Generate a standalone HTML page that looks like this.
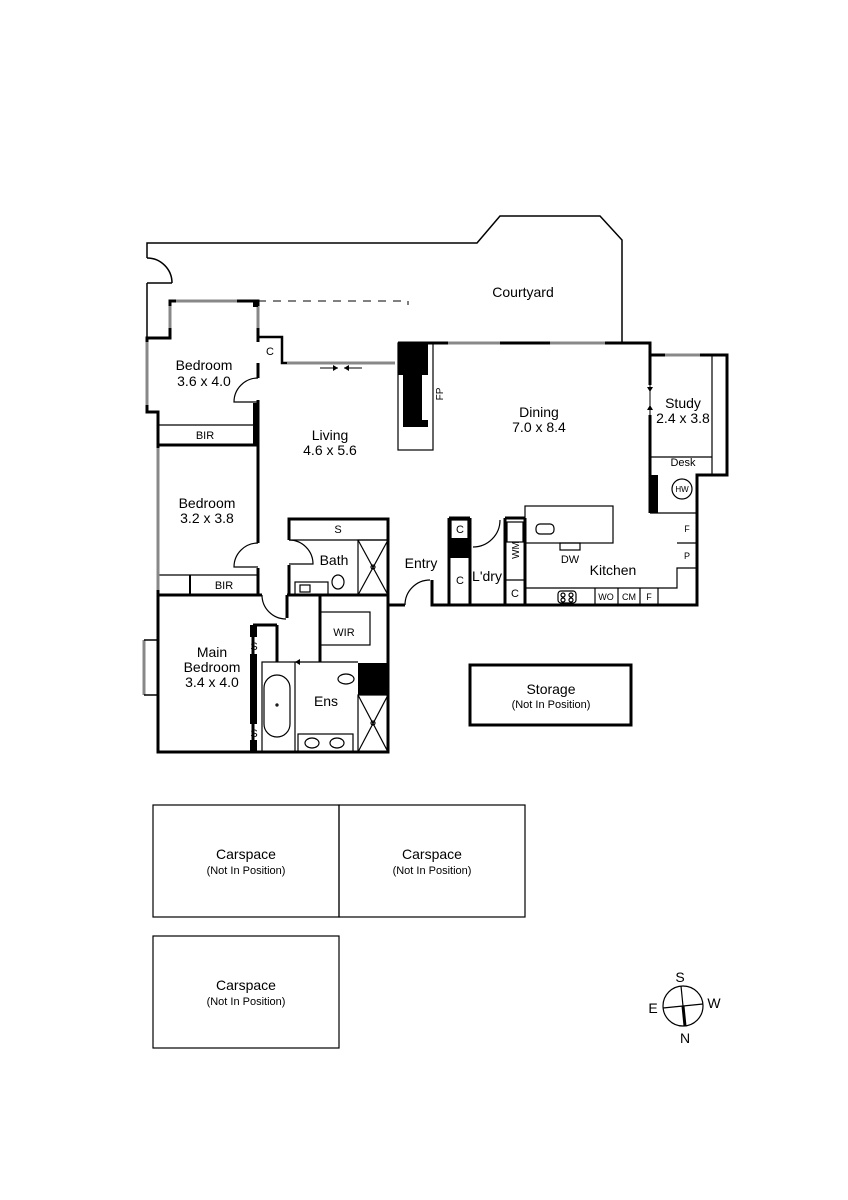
<!DOCTYPE html>
<html><head><meta charset="utf-8"><style>
html,body{margin:0;padding:0;background:#fff;}
svg{display:block;font-family:"Liberation Sans",sans-serif;}
</style></head><body>
<svg width="848" height="1200" viewBox="0 0 848 1200" xmlns="http://www.w3.org/2000/svg">
<g fill="none" stroke="#000" stroke-width="1.5">
<polyline points="147,258 147,243 477,243 500,216 600,216 622,240 622,343"/>
<path d="M147,258 A25,25 0 0 1 172,283"/>
<line x1="147" y1="283" x2="147" y2="338"/>
<line x1="172" y1="283" x2="147" y2="283"/>
<polyline points="258,301 408,301 408,305" stroke-dasharray="8,7" stroke-width="1"/>
</g>
<g fill="none" stroke="#000" stroke-width="3">
<polyline points="258,342 258,301 170,301 170,338 147,338 147,412 158,412 158,752 388,752 388,595"/>
<line x1="258" y1="363" x2="258" y2="378"/>
<line x1="258" y1="400" x2="258" y2="445"/>
<line x1="158" y1="445" x2="258" y2="445"/>
<line x1="258" y1="445" x2="258" y2="543"/>
<line x1="258" y1="568" x2="258" y2="595"/>
<line x1="158" y1="595" x2="262" y2="595"/>
<line x1="190" y1="575" x2="190" y2="595" stroke-width="2"/>
<polyline points="258,337 282,337 282,363 287,363" stroke-width="2.5"/>
<polyline points="398,343 650,343 650,355 727,355 727,475 697,475 697,605 432,605 432,580"/>
<polyline points="405,605 388,605 388,580"/>
<line x1="650" y1="355" x2="650" y2="385"/>
<line x1="650" y1="415" x2="650" y2="513"/>
<line x1="449" y1="518" x2="449" y2="605"/>
<line x1="449" y1="518" x2="470" y2="518"/>
<line x1="470" y1="518" x2="470" y2="605"/>
<line x1="505" y1="518" x2="505" y2="605"/>
<line x1="505" y1="518" x2="525" y2="518"/>
<line x1="525" y1="518" x2="525" y2="605"/>
<polyline points="289,540 289,519 388,519 388,580"/>
<line x1="289" y1="565" x2="289" y2="595"/>
<line x1="287" y1="595" x2="388" y2="595"/>
<line x1="287" y1="595" x2="287" y2="618"/>
<line x1="320" y1="595" x2="320" y2="662"/>
<line x1="253" y1="625" x2="253" y2="752"/>
<line x1="253" y1="625" x2="277" y2="625"/>
<line x1="277" y1="625" x2="277" y2="662"/>
<rect x="470" y="665" width="161" height="60"/>
</g>
<g fill="none" stroke="#000" stroke-width="1.2">
<rect x="153" y="805" width="186" height="112"/>
<rect x="339" y="805" width="186" height="112"/>
<rect x="153" y="936" width="186" height="112"/>
<path d="M258,378 A24,24 0 0 0 234,402 L258,402"/>
<path d="M258,543 A24,24 0 0 0 234,567 L258,567"/>
<path d="M262,595 A24,24 0 0 0 286,619"/>
<path d="M289,540 A24,24 0 0 1 313,564 L289,564"/>
<path d="M405,605 A25,25 0 0 1 430,580"/>
<path d="M473,547 A27,27 0 0 0 500,520"/>
<line x1="158" y1="425" x2="258" y2="425"/>
<line x1="158" y1="575" x2="258" y2="575"/>
<line x1="289" y1="540" x2="388" y2="540"/>
<rect x="358" y="540" width="30" height="55"/>
<line x1="358" y1="540" x2="388" y2="595"/><line x1="388" y1="540" x2="358" y2="595"/>
<circle cx="373" cy="567" r="2"/>
<rect x="295" y="582" width="33" height="13"/><rect x="300" y="585" width="10" height="7"/>
<ellipse cx="338" cy="582" rx="6" ry="7"/>
<rect x="320" y="612" width="50" height="33"/>
<line x1="295" y1="662" x2="358" y2="662"/>
<rect x="262" y="662" width="33" height="90"/>
<rect x="264" y="675" width="26" height="62" rx="13"/>
<circle cx="277" cy="705" r="1"/>
<rect x="298" y="734" width="55" height="18"/>
<ellipse cx="312" cy="743" rx="7" ry="5"/><ellipse cx="337" cy="743" rx="7" ry="5"/>
<ellipse cx="346" cy="679" rx="8" ry="5"/>
<rect x="358" y="695" width="30" height="57"/>
<line x1="358" y1="695" x2="388" y2="752"/><line x1="388" y1="695" x2="358" y2="752"/>
<circle cx="373" cy="723" r="2"/>
<rect x="398" y="343" width="35" height="107"/>
<rect x="451" y="520" width="17" height="20"/>
<rect x="507" y="522" width="16" height="20"/>
<line x1="505" y1="580" x2="525" y2="580"/>
<rect x="525" y="506" width="88" height="37"/>
<rect x="536" y="524" width="18" height="10" rx="4"/>
<rect x="560" y="543" width="20" height="7"/>
<polyline points="525,588 677,588 677,568 697,568"/>
<line x1="677" y1="543" x2="697" y2="543"/>
<line x1="595" y1="588" x2="595" y2="605"/><line x1="618" y1="588" x2="618" y2="605"/>
<line x1="640" y1="588" x2="640" y2="605"/><line x1="658" y1="588" x2="658" y2="605"/>
<rect x="558" y="591" width="18" height="12" rx="3"/>
<circle cx="563" cy="595" r="2"/><circle cx="571" cy="595" r="2"/><circle cx="563" cy="600" r="2"/><circle cx="571" cy="600" r="2"/>
<line x1="650" y1="513" x2="697" y2="513"/>
<circle cx="682" cy="489" r="10"/>
<line x1="650" y1="457" x2="712" y2="457"/>
<line x1="712" y1="355" x2="712" y2="475"/>
<line x1="470" y1="580" x2="470" y2="605"/>
<circle cx="683" cy="1006" r="20"/>
<line x1="681" y1="986" x2="683" y2="1006"/>
<line x1="663" y1="1008" x2="703" y2="1004"/>
</g>
<g stroke="#888" stroke-width="3">
<line x1="176" y1="301" x2="237" y2="301"/>
<line x1="170" y1="306" x2="170" y2="328"/>
<line x1="258" y1="306" x2="258" y2="328"/>
<line x1="147" y1="342" x2="147" y2="405"/>
<line x1="158" y1="448" x2="158" y2="590"/>
<line x1="287" y1="363" x2="395" y2="363"/>
<line x1="448" y1="343" x2="500" y2="343"/>
<line x1="550" y1="343" x2="605" y2="343"/>
<line x1="665" y1="355" x2="700" y2="355"/>
<line x1="144" y1="640" x2="144" y2="695"/>
</g>
<g stroke="#000" stroke-width="1.5"><line x1="144" y1="640" x2="158" y2="640"/><line x1="144" y1="695" x2="158" y2="695"/></g>
<g fill="#000">
<path d="M398,343 L428,343 L428,427 L403,427 L403,375 L398,375Z"/>
<rect x="422" y="375" width="7" height="45" fill="#fff"/>
<rect x="253" y="403" width="6" height="42"/>
<rect x="250" y="625" width="7" height="12"/><rect x="250" y="654" width="7" height="70"/><rect x="250" y="740" width="7" height="12"/>
<rect x="358" y="663" width="30" height="32"/>
<rect x="449" y="538" width="21" height="20"/>
<rect x="650" y="475" width="8" height="38"/>
<rect x="253" y="301" width="5" height="6"/>
<line x1="683" y1="1006" x2="685" y2="1026" stroke="#000" stroke-width="3"/>
</g>
<g stroke="#000" stroke-width="1"><line x1="320" y1="368" x2="338" y2="368"/><line x1="344" y1="368" x2="362" y2="368"/><line x1="650" y1="385" x2="650" y2="415"/></g>
<g fill="#000"><path d="M338,368 l-5,-3 v6z"/><path d="M344,368 l5,-3 v6z"/><path d="M295,662 l5,-3 v6z"/><path d="M650,392 l-3,-5 h6z"/><path d="M650,405 l-3,5 h6z"/></g>
<g font-size="14" text-anchor="middle" fill="#000">
<text x="523" y="297">Courtyard</text>
<text x="204" y="370">Bedroom</text><text x="204" y="386">3.6 x 4.0</text>
<text x="330" y="440">Living</text><text x="330" y="455">4.6 x 5.6</text>
<text x="539" y="417">Dining</text><text x="539" y="432">7.0 x 8.4</text>
<text x="683" y="408">Study</text><text x="683" y="423">2.4 x 3.8</text>
<text x="207" y="508">Bedroom</text><text x="207" y="523">3.2 x 3.8</text>
<text x="334" y="565">Bath</text>
<text x="421" y="568">Entry</text>
<text x="487" y="581">L'dry</text>
<text x="613" y="575">Kitchen</text>
<text x="212" y="657">Main</text><text x="212" y="672">Bedroom</text><text x="212" y="687">3.4 x 4.0</text>
<text x="326" y="706">Ens</text>
<text x="551" y="694">Storage</text>
<text x="246" y="859">Carspace</text><text x="432" y="859">Carspace</text><text x="246" y="990">Carspace</text>
<text x="680" y="982">S</text><text x="653" y="1013">E</text><text x="714" y="1008">W</text><text x="685" y="1043">N</text>
</g>
<g font-size="11" text-anchor="middle" fill="#000">
<text x="551" y="708">(Not In Position)</text>
<text x="246" y="874">(Not In Position)</text><text x="432" y="874">(Not In Position)</text><text x="246" y="1005">(Not In Position)</text>
<text x="270" y="355">C</text><text x="205" y="439">BIR</text><text x="224" y="589">BIR</text>
<text x="338" y="533">S</text><text x="344" y="636">WIR</text>
<text x="254" y="650">S</text><text x="254" y="737">S</text>
<text x="460" y="533">C</text><text x="460" y="584">C</text><text x="515" y="597">C</text>
<text x="570" y="563">DW</text><text x="683" y="466">Desk</text>
<text x="606" y="600" font-size="9">WO</text><text x="629" y="600" font-size="9">CM</text><text x="649" y="600" font-size="9">F</text>
<text x="687" y="532" font-size="9">F</text><text x="687" y="559" font-size="9">P</text>
<text x="682" y="492" font-size="8">HW</text>
<text transform="translate(443,394) rotate(-90)" font-size="10">FP</text>
<text transform="translate(519,550) rotate(-90)" font-size="10">WM</text>
</g>
</svg>
</body></html>
